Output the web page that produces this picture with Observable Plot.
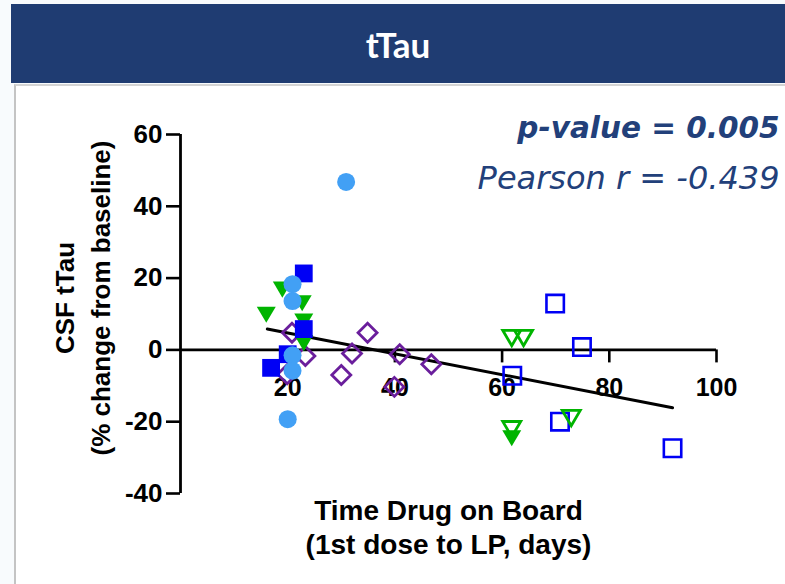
<!DOCTYPE html>
<html>
<head>
<meta charset="utf-8">
<script src="https://cdn.jsdelivr.net/npm/d3@7"></script>
<script src="https://cdn.jsdelivr.net/npm/@observablehq/plot@0.6"></script>
<style>
  html, body { margin: 0; padding: 0; }
  body { width: 785px; height: 584px; background: #f8fbfd; position: relative; overflow: hidden; }
  #header { position: absolute; left: 11px; top: 4px; width: 774px; height: 79px; background: #1f3c72;
            color: #fff; font-family: Lato, "Open Sans", sans-serif; font-weight: 700; font-size: 35px;
            display: flex; align-items: center; justify-content: center; }
  #panel { position: absolute; left: 14px; top: 84px; width: 771px; height: 500px; background: #fff;
           border-left: 2px solid #c4c4c4; border-top: 2px solid #d4d4d4; }
  #chart { position: absolute; left: 0; top: 86px; }
</style>
</head>
<body>
<div id="header">tTau</div>
<div id="panel"></div>
<div id="chart"></div>
<script>
// ---- data ----
const xTicks = [20, 40, 60, 80, 100];
const yTicks = [-40, -20, 0, 20, 40, 60];
const xDomain = [0, 100];

const filledSquareX = [23.0, 23.0, 20.0, 16.9];
const filledSquareY = [21.3, 5.8, -1.2, -5.0];

const circleX = [20.9, 20.9, 20.9, 20.9, 20.0, 30.9];
const circleY = [18.3, 13.6, -1.5, -5.8, -19.3, 46.8];

const filledTriX = [19.0, 22.7, 16.0, 23.0, 23.0, 61.8];
const filledTriY = [17.4, 13.6, 10.4, 8.5, 2.5, -24.0];

const diamondX = [20.8, 23.3, 19.9, 34.9, 32.0, 30.0, 40.9, 39.9, 46.8];
const diamondY = [4.8, -1.7, -6.8, 4.8, -1.0, -7.0, -1.2, -10.3, -4.0];

const openSquareX = [69.9, 74.9, 61.9, 70.8, 91.8];
const openSquareY = [12.9, 0.8, -7.2, -20.0, -27.4];

const openTriX = [61.8, 64.0, 72.9, 61.8];
const openTriY = [3.9, 3.9, -18.4, -21.5];

const fitX = [16.2, 91.8];
const fitY = [5.8, -16.1];

const pText = "p-value = 0.005";
const rText = "Pearson r = -0.439";
const yTitle = "CSF tTau\n(% change from baseline)";
const xTitle = "Time Drug on Board\n(1st dose to LP, days)";

// ---- helpers ----
const pts = (xs, ys) => xs.map((x, i) => ({x, y: ys[i]}));
const rad = (size) => Math.sqrt(size / Math.PI);
const triDown = {draw(ctx, size) { const r = rad(size);
  ctx.moveTo(-r, -0.62 * r); ctx.lineTo(r, -0.62 * r); ctx.lineTo(0, 1.08 * r); ctx.closePath(); }};
const squareSym = {draw(ctx, size) { const r = rad(size);
  ctx.moveTo(-r, -r); ctx.lineTo(r, -r); ctx.lineTo(r, r); ctx.lineTo(-r, r); ctx.closePath(); }};
const diamondSym = {draw(ctx, size) { const r = rad(size);
  ctx.moveTo(0, -r); ctx.lineTo(r, 0); ctx.lineTo(0, r); ctx.lineTo(-r, 0); ctx.closePath(); }};

const BLUE = "#0000f5", LIGHT = "#42a0f5", GREEN = "#00b400", PURPLE = "#6a1e9c", NAVY = "#22407a";
const FONT = "'Liberation Sans', Arial, Helvetica, sans-serif";
const STAT_FONT = "'DejaVu Sans', Verdana, sans-serif";

const plot = Plot.plot({
  width: 785,
  height: 498,
  marginLeft: 180,
  marginRight: 69,
  marginTop: 48,
  marginBottom: 91,
  x: {domain: xDomain, axis: null},
  y: {domain: [d3.min(yTicks), d3.max(yTicks)]},
  style: {fontFamily: FONT, fontWeight: "bold", background: "transparent", overflow: "visible", color: "#000"},
  marks: [
    // y axis
    Plot.axisY({ticks: yTicks, tickSize: 14, tickPadding: 4, fontSize: 26, fontWeight: "bold",
                strokeWidth: 2.6, label: null, tickFormat: d => String(d)}),
    Plot.ruleX([xDomain[0]], {y1: () => d3.min(yTicks), y2: () => d3.max(yTicks), strokeWidth: 2.8}),
    // x axis drawn at y = 0
    Plot.ruleY([0], {x1: () => xDomain[0], x2: () => xDomain[1], strokeWidth: 2.8}),
    Plot.ruleX(xTicks, {x: d => d, y1: () => 0, y2: () => 0, insetBottom: -13, strokeWidth: 2.6}),
    Plot.text(xTicks, {x: d => d, y: () => 0, dy: 38, text: d => String(d), fontSize: 25, fontWeight: "bold"}),
    // axis titles
    Plot.text([yTitle], {frameAnchor: "left", dx: -100, dy: -16, rotate: -90, text: d => d,
                         textAnchor: "middle", fontSize: 26, fontWeight: "bold", lineHeight: 1.38, lineAnchor: "middle"}),
    Plot.text([xTitle], {frameAnchor: "bottom", dy: 60, text: d => d, fontSize: 28, fontWeight: "bold",
                         lineHeight: 1.18, lineAnchor: "bottom"}),
    // regression line
    Plot.line(pts(fitX, fitY), {x: "x", y: "y", stroke: "#000", strokeWidth: 3}),
    // points
    Plot.dot(pts(diamondX, diamondY), {x: "x", y: "y", symbol: diamondSym, r: 9.5, stroke: PURPLE, strokeWidth: 2.8, fill: "none"}),
    Plot.dot(pts(openSquareX, openSquareY), {x: "x", y: "y", symbol: squareSym, r: 8.7, stroke: BLUE, strokeWidth: 2.6, fill: "none"}),
    Plot.dot(pts(openTriX, openTriY), {x: "x", y: "y", symbol: triDown, r: 9, stroke: GREEN, strokeWidth: 2.8, fill: "none"}),
    Plot.dot(pts(filledTriX, filledTriY), {x: "x", y: "y", symbol: triDown, r: 9.5, fill: GREEN, stroke: "none"}),
    Plot.dot(pts(filledSquareX, filledSquareY), {x: "x", y: "y", symbol: squareSym, r: 8.9, fill: BLUE, stroke: "none"}),
    Plot.dot(pts(circleX, circleY), {x: "x", y: "y", symbol: "circle", r: 9, fill: LIGHT, stroke: "none"}),
    // statistics annotation
    Plot.text([pText], {frameAnchor: "top-right", dx: 63, dy: 3, text: d => d, textAnchor: "end", lineAnchor: "bottom",
                        fontSize: 29.5, fontWeight: "bold", fontStyle: "italic", fill: NAVY, fontFamily: STAT_FONT}),
    Plot.text([rText], {frameAnchor: "top-right", dx: 63, dy: 54, text: d => d, textAnchor: "end", lineAnchor: "bottom",
                        fontSize: 32, fontWeight: "normal", fontStyle: "italic", fill: NAVY, fontFamily: STAT_FONT})
  ]
});
document.getElementById("chart").appendChild(plot);
</script>
</body>
</html>
